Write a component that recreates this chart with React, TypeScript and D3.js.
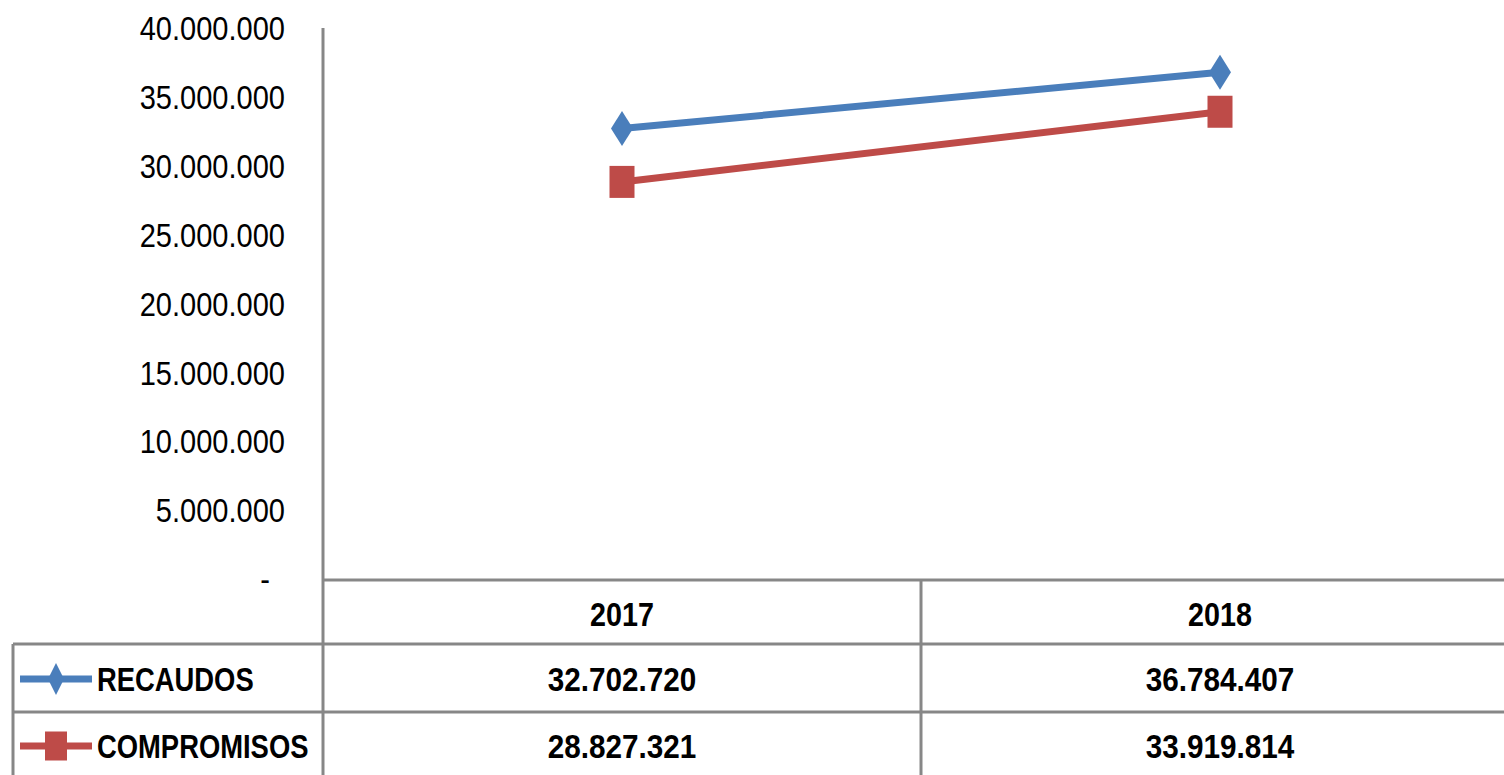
import React from 'react';
import * as d3 from 'd3';

// chart data
const years = ['2017', '2018'];
const seriesNames = ['RECAUDOS', 'COMPROMISOS'];
const recaudos = [32702720, 36784407];
const compromisos = [28827321, 33919814];
const seriesColors = ['#4a7ebb', '#be4b48'];

const W = 1504;
const H = 775;
const GRID = '#878787';
const FONT = '"Liberation Sans", Arial, sans-serif';

const locale = d3.formatLocale({ decimal: ',', thousands: '.', grouping: [3], currency: ['', ''] });
const fmt = locale.format(',.0f');

function Marker({ kind, cx, cy, w, h, color }) {
  if (kind === 0) {
    const d = `M${cx},${cy - h / 2}L${cx + w / 2},${cy}L${cx},${cy + h / 2}L${cx - w / 2},${cy}Z`;
    return <path d={d} fill={color} />;
  }
  return <rect x={cx - w / 2} y={cy - h / 2} width={w} height={h} fill={color} />;
}

export default function App() {
  const series = [recaudos, compromisos];

  const x = d3.scaleBand().domain(years).range([323, 1519]);
  const y = d3.scaleLinear().domain([0, 40000000]).range([579, 28]);
  const yTicks = y.ticks(8);
  const line = d3.line<number>()
    .x((_, i) => x(years[i]) + x.bandwidth() / 2)
    .y(d => y(d));

  const axisX = 323;
  const rowLines = [580, 644, 712];
  const rowMid = [614, 679, 746];
  const tableLeft = 13;
  const divider = x(years[1]);

  return (
    <svg width={W} height={H} style={{ position: 'absolute', left: 0, top: 0, background: '#fff' }}>
      {/* y axis labels */}
      {yTicks.map(t => (
        <text
          key={t}
          transform={`translate(${t === 0 ? 270 : 285},${y(t)}) scale(0.88,1.02)`}
          dy="0.36em"
          textAnchor="end"
          fontFamily={FONT}
          fontSize={33}
          fill="#000"
        >
          {t === 0 ? '-' : fmt(t)}
        </text>
      ))}

      {/* axes and table grid */}
      <g stroke={GRID} strokeWidth={3}>
        <line x1={axisX} x2={axisX} y1={28} y2={H} />
        <line x1={axisX} x2={W} y1={rowLines[0]} y2={rowLines[0]} />
        <line x1={tableLeft} x2={W} y1={rowLines[1]} y2={rowLines[1]} />
        <line x1={tableLeft} x2={W} y1={rowLines[2]} y2={rowLines[2]} />
        <line x1={tableLeft} x2={tableLeft} y1={rowLines[1]} y2={H} />
        <line x1={divider} x2={divider} y1={rowLines[0]} y2={H} />
      </g>

      {/* series lines */}
      {series.map((s, si) => (
        <g key={si}>
          <path d={line(s)} fill="none" stroke={seriesColors[si]} strokeWidth={7} />
          {s.map((v, i) => (
            <Marker
              key={i}
              kind={si}
              cx={x(years[i]) + x.bandwidth() / 2}
              cy={y(v)}
              w={si === 0 ? 22 : 25}
              h={si === 0 ? 35 : 32}
              color={seriesColors[si]}
            />
          ))}
        </g>
      ))}

      {/* table header */}
      {years.map(yr => (
        <text
          key={yr}
          transform={`translate(${x(yr) + x.bandwidth() / 2},${rowMid[0]}) scale(0.87,1)`}
          dy="0.36em"
          textAnchor="middle"
          fontFamily={FONT}
          fontWeight="bold"
          fontSize={33}
        >
          {yr}
        </text>
      ))}

      {/* table rows */}
      {series.map((s, si) => (
        <g key={si}>
          <line x1={20} x2={92} y1={rowMid[si + 1]} y2={rowMid[si + 1]} stroke={seriesColors[si]} strokeWidth={7} />
          <Marker
            kind={si}
            cx={56}
            cy={rowMid[si + 1]}
            w={si === 0 ? 16 : 22}
            h={si === 0 ? 32 : 29}
            color={seriesColors[si]}
          />
          <text
            transform={`translate(97,${rowMid[si + 1]}) scale(0.83,1)`}
            dy="0.36em"
            fontFamily={FONT}
            fontWeight="bold"
            fontSize={33}
          >
            {seriesNames[si]}
          </text>
          {s.map((v, i) => (
            <text
              key={i}
              transform={`translate(${x(years[i]) + x.bandwidth() / 2},${rowMid[si + 1]}) scale(0.9,1)`}
              dy="0.36em"
              textAnchor="middle"
              fontFamily={FONT}
              fontWeight="bold"
              fontSize={33}
            >
              {fmt(v)}
            </text>
          ))}
        </g>
      ))}
    </svg>
  );
}
